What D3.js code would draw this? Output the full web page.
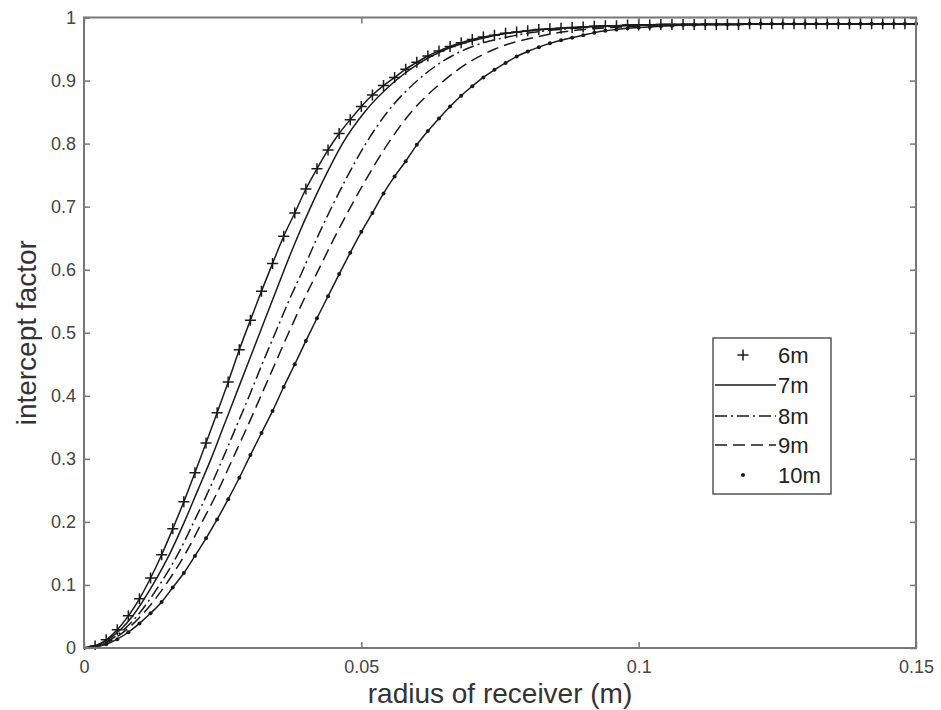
<!DOCTYPE html>
<html><head><meta charset="utf-8">
<script src="https://cdn.jsdelivr.net/npm/d3@7"></script>
<style>body{margin:0;background:#fff}svg{display:block}text{font-family:"Liberation Sans",Arial,sans-serif}</style>
</head><body><svg id="c" width="941" height="710"></svg>
<script>
// ---- data ----
const radiusGrid = [0,0.002,0.004,0.006,0.008,0.010,0.012,0.014,0.016,0.018,0.020,0.022,0.024,0.026,0.028,0.030,0.032,0.034,0.036,0.038,0.040,0.042,0.044,0.046,0.048,0.050,0.052,0.054,0.056,0.058,0.060,0.062,0.064,0.066,0.068,0.070,0.072,0.074,0.076,0.078,0.080,0.082,0.084,0.086,0.088,0.090,0.092,0.094,0.096,0.098,0.100,0.102,0.104,0.106,0.108,0.110,0.112,0.114,0.116,0.118,0.120,0.122,0.124,0.126,0.128,0.130,0.132,0.134,0.136,0.138,0.140,0.142,0.144,0.146,0.148,0.150];
const factor6m = [0,0.003,0.013,0.029,0.051,0.078,0.111,0.148,0.189,0.232,0.278,0.325,0.373,0.422,0.473,0.520,0.566,0.610,0.653,0.690,0.728,0.760,0.790,0.816,0.838,0.859,0.877,0.892,0.905,0.918,0.929,0.939,0.947,0.954,0.960,0.965,0.969,0.972,0.975,0.977,0.979,0.981,0.982,0.983,0.984,0.985,0.986,0.987,0.987,0.988,0.988,0.988,0.989,0.989,0.989,0.989,0.989,0.989,0.989,0.989,0.990,0.990,0.990,0.990,0.990,0.990,0.990,0.990,0.990,0.990,0.990,0.990,0.990,0.990,0.990,0.990];
const factor10m = [0,0.002,0.006,0.014,0.025,0.039,0.055,0.073,0.096,0.119,0.146,0.174,0.204,0.236,0.270,0.306,0.341,0.376,0.414,0.450,0.487,0.523,0.558,0.593,0.627,0.660,0.690,0.721,0.748,0.772,0.798,0.820,0.840,0.859,0.876,0.891,0.905,0.917,0.928,0.938,0.946,0.953,0.959,0.964,0.968,0.972,0.976,0.979,0.981,0.983,0.984,0.985,0.986,0.987,0.988,0.988,0.989,0.989,0.989,0.989,0.990,0.990,0.990,0.990,0.990,0.990,0.990,0.990,0.990,0.990,0.990,0.990,0.990,0.990,0.990,0.990];
const levelsMid = [0,0.01,0.03,0.05,0.1,0.15,0.2,0.25,0.3,0.35,0.4,0.45,0.5,0.55,0.6,0.65,0.7,0.75,0.8,0.85,0.9,0.93,0.95,0.97,0.98,0.985,0.989,0.990];
const radius7m = [0,0.0037,0.0067,0.0087,0.0124,0.0155,0.0181,0.0205,0.0229,0.0251,0.0273,0.0295,0.0317,0.0339,0.0361,0.0384,0.0409,0.0436,0.0466,0.0506,0.0562,0.0609,0.0654,0.0732,0.0814,0.0904,0.105,0.15];
const radius8m = [0,0.0041,0.0073,0.0095,0.0136,0.0170,0.0198,0.0225,0.0250,0.0274,0.0298,0.0321,0.0345,0.0369,0.0395,0.0420,0.0447,0.0476,0.0508,0.0547,0.0601,0.0646,0.0689,0.0768,0.0845,0.0930,0.107,0.15];
const radius9m = [0,0.0045,0.0078,0.0102,0.0147,0.0183,0.0213,0.0242,0.0268,0.0294,0.0319,0.0344,0.0369,0.0395,0.0423,0.0451,0.0481,0.0513,0.0548,0.0590,0.0649,0.0696,0.0741,0.0820,0.0890,0.0968,0.109,0.15];
const xTicks = [0,0.05,0.1,0.15];
const xTickLabels = ["0","0.05","0.1","0.15"];
const yTicks = [0,0.1,0.2,0.3,0.4,0.5,0.6,0.7,0.8,0.9,1];
const yTickLabels = ["0","0.1","0.2","0.3","0.4","0.5","0.6","0.7","0.8","0.9","1"];
const legendLabels = ["6m","7m","8m","9m","10m"];

// ---- drawing ----
const svg = d3.select("#c");
const L = 84, R = 916, T = 17.5, B = 648;
const x = d3.scaleLinear().domain([0,0.15]).range([L,R]);
const y = d3.scaleLinear().domain([0,1]).range([B,T]);
const ink = "#1a1a1a";
const frameCol = "#777";
const labCol = "#444";

svg.append("rect").attr("width",941).attr("height",710).attr("fill","#fff");
svg.append("clipPath").attr("id","clip").append("rect")
  .attr("x",L).attr("y",T-2).attr("width",R-L+2).attr("height",B-T+4);

const g = svg.append("g").attr("clip-path","url(#clip)");
const lineXY = d3.line().x(d=>x(d[0])).y(d=>y(d[1])).curve(d3.curveMonotoneX);

const s6 = radiusGrid.map((r,i)=>[r,factor6m[i]]);
const s10 = radiusGrid.map((r,i)=>[r,factor10m[i]]);
const s7 = radius7m.map((r,i)=>[r,levelsMid[i]]);
const s8 = radius8m.map((r,i)=>[r,levelsMid[i]]);
const s9 = radius9m.map((r,i)=>[r,levelsMid[i]]);

const styles = [
  {data:s6, dash:null},
  {data:s7, dash:null},
  {data:s8, dash:"12,4,2,4"},
  {data:s9, dash:"12,6"},
  {data:s10, dash:null}
];
styles.forEach(s=>{
  g.append("path").attr("d",lineXY(s.data)).attr("fill","none")
   .attr("stroke",ink).attr("stroke-width",1.5)
   .attr("stroke-dasharray",s.dash);
});
// + markers for 6m
const plus = (sel,cx,cy,h)=>sel.append("path")
  .attr("d",`M${cx-h},${cy}H${cx+h}M${cx},${cy-h}V${cy+h}`)
  .attr("stroke",ink).attr("stroke-width",1.5).attr("fill","none");
s6.forEach(d=>plus(g,x(d[0]),y(d[1]),5.5));
// dot markers for 10m
g.selectAll("circle.d10").data(s10).enter().append("circle")
  .attr("cx",d=>x(d[0])).attr("cy",d=>y(d[1])).attr("r",2).attr("fill",ink);

// axes with inward ticks
const ax = svg.append("g");
const xb = ax.append("g").attr("transform",`translate(0,${B})`)
  .call(d3.axisBottom(x).tickValues(xTicks).tickFormat((d,i)=>xTickLabels[i]).tickSizeInner(-6).tickSizeOuter(0).tickPadding(10));
const xt = ax.append("g").attr("transform",`translate(0,${T})`)
  .call(d3.axisTop(x).tickValues(xTicks).tickFormat("").tickSizeInner(-6).tickSizeOuter(0));
const yl = ax.append("g").attr("transform",`translate(${L},0)`)
  .call(d3.axisLeft(y).tickValues(yTicks).tickFormat((d,i)=>yTickLabels[i]).tickSizeInner(-6).tickSizeOuter(0).tickPadding(8));
const yr = ax.append("g").attr("transform",`translate(${R},0)`)
  .call(d3.axisRight(y).tickValues(yTicks).tickFormat("").tickSizeInner(-6).tickSizeOuter(0));
ax.selectAll(".domain").remove();
ax.selectAll(".tick line").attr("stroke",frameCol).attr("stroke-width",1.5);
ax.selectAll(".tick text").attr("fill",labCol).style("font-size","18px")
  .style("font-family","'Liberation Sans', Arial, sans-serif");
xb.selectAll(".tick text").attr("dy","0.85em");

svg.append("rect").attr("x",L).attr("y",T).attr("width",R-L).attr("height",B-T)
  .attr("fill","none").attr("stroke",frameCol).attr("stroke-width",2);

// axis titles
svg.append("text").attr("x",(L+R)/2).attr("y",703).attr("text-anchor","middle")
  .attr("fill","#333").style("font-size","28px").text("radius of receiver (m)");
svg.append("text").attr("transform",`translate(36,${(T+B)/2}) rotate(-90)`)
  .attr("text-anchor","middle").attr("fill","#333").style("font-size","28px").text("intercept factor");

// legend
const lg = svg.append("g");
lg.append("rect").attr("x",713).attr("y",338).attr("width",118).attr("height",156)
  .attr("fill","#fff").attr("stroke","#555").attr("stroke-width",1.5);
const rowsY = [355,385,416,445,475];
legendLabels.forEach((lab,i)=>{
  const yy = rowsY[i];
  if(i===0){ plus(lg,743,yy,5.5); }
  else if(i===4){ lg.append("circle").attr("cx",743).attr("cy",yy).attr("r",2).attr("fill",ink); }
  else {
    lg.append("line").attr("x1",715).attr("x2",776).attr("y1",yy).attr("y2",yy)
      .attr("stroke",ink).attr("stroke-width",1.5).attr("stroke-dasharray",styles[i].dash);
  }
  lg.append("text").attr("x",778).attr("y",yy+8).attr("fill","#222")
    .style("font-size","22px").text(lab);
});
</script></body></html>
